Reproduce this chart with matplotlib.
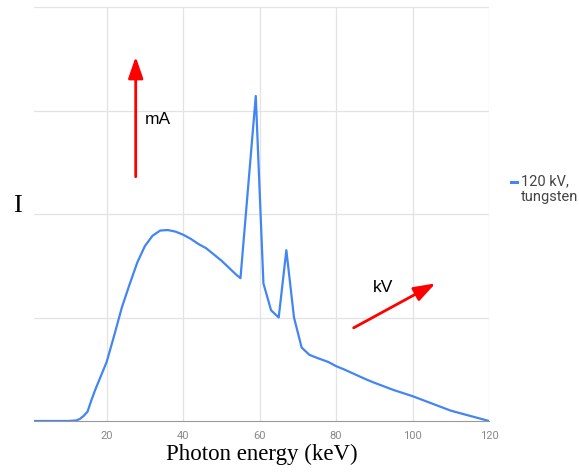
import matplotlib.pyplot as plt

# spectrum (keV, relative intensity in grid units)
energy = [1, 10, 12, 13, 14, 15, 16, 17, 18, 20, 22, 24, 26, 28, 30, 32, 34, 36,
          38, 40, 42, 44, 46, 47, 48, 50, 52, 54, 55, 59, 61, 63, 65, 67, 69, 71,
          73, 75, 78, 80, 82, 85, 88, 90, 95, 100, 105, 110, 115, 120]
intensity = [0, 0, 0.005, 0.02, 0.05, 0.09, 0.2, 0.3, 0.39, 0.57, 0.83, 1.1, 1.32,
             1.53, 1.69, 1.79, 1.84, 1.845, 1.83, 1.8, 1.76, 1.71, 1.67, 1.64, 1.61,
             1.55, 1.48, 1.41, 1.38, 3.14, 1.33, 1.07, 1.0, 1.65, 1.0, 0.71, 0.64,
             0.61, 0.57, 0.53, 0.5, 0.45, 0.4, 0.37, 0.3, 0.24, 0.17, 0.1, 0.05, 0.0]
xticks = [20, 40, 60, 80, 100, 120]
series_name = "120 kV,\ntungsten"

fig = plt.figure(figsize=(5.79, 4.72), dpi=100)
ax = fig.add_axes([34 / 579, 51 / 472, 455 / 579, 414 / 472])

ax.plot(energy, intensity, color='#4285F4', lw=1.6, solid_joinstyle='round')
ax.set_xlim(1, 120)
ax.set_ylim(0, 4)
ax.set_xticks(xticks)
ax.set_yticks([1, 2, 3, 4])
ax.set_yticklabels([])
ax.grid(True, color='#e3e3e3', lw=0.9)
ax.set_axisbelow(True)
for s in ['top', 'left', 'right']:
    ax.spines[s].set_visible(False)
ax.spines['bottom'].set_color('#999999')
ax.tick_params(axis='both', length=0)
ax.tick_params(axis='x', colors='#888888', labelsize=8, pad=7)
for lab in ax.get_xticklabels():
    lab.set_family('Roboto')

ax.set_xlabel('Photon energy (keV)', family='Liberation Serif', fontsize=16.5,
              labelpad=2)
fig.text(17 / 579, 1 - 206 / 472, 'I', family='Liberation Serif', fontsize=19,
         ha='center', va='center')

# arrows for mA and kV
ax.annotate('', xy=(27.6, 3.52), xytext=(27.6, 2.36),
            arrowprops=dict(arrowstyle='-|>,head_length=1.3,head_width=0.45',
                            color='red', lw=2, shrinkA=0, shrinkB=0))
ax.text(29.9, 2.87, 'mA', family='Liberation Sans', fontsize=12.5)
ax.annotate('', xy=(106.0, 1.33), xytext=(84.6, 0.90),
            arrowprops=dict(arrowstyle='-|>,head_length=1.3,head_width=0.45',
                            color='red', lw=2, shrinkA=0, shrinkB=0))
ax.text(89.5, 1.25, 'kV', family='Liberation Sans', fontsize=12.5)

# legend
fig.lines.append(plt.Line2D([511 / 579, 517 / 579], [1 - 182 / 472, 1 - 182 / 472],
                            color='#4285F4', lw=2.2, transform=fig.transFigure))
fig.text(521 / 579, 1 - 174 / 472, series_name, family='Roboto', fontsize=10.5,
         color='#444444', va='top', linespacing=1.2)

fig.savefig('out.png', dpi=100)
